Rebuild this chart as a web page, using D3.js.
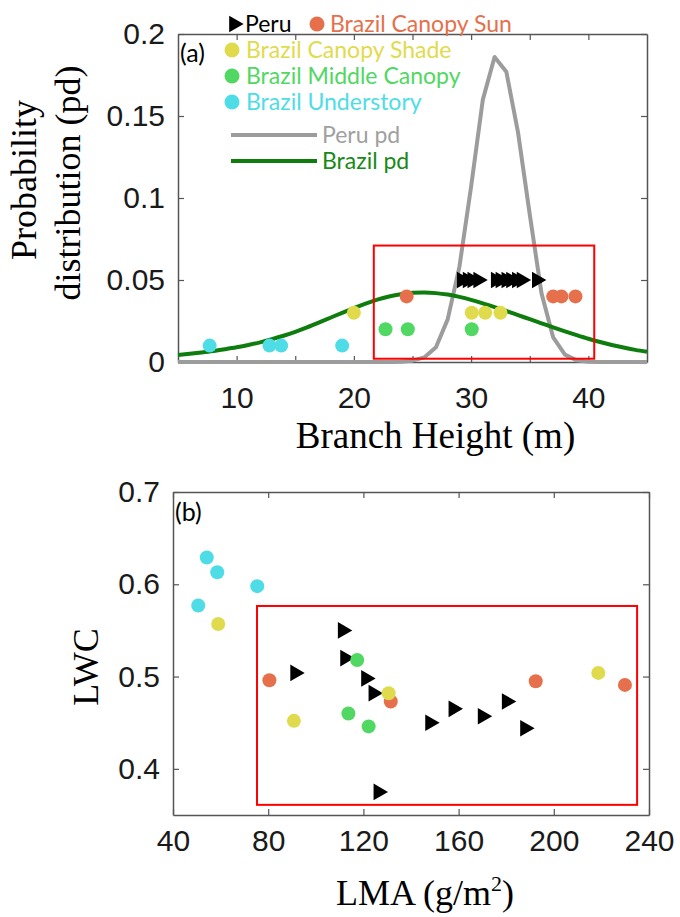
<!DOCTYPE html>
<html>
<head>
<meta charset="utf-8">
<script src="https://cdn.jsdelivr.net/npm/d3@7"></script>
<style>
  body { margin: 0; background: #fff; }
  svg { display: block; }
</style>
</head>
<body>
<svg id="chart" width="680" height="917"></svg>
<script>
// ---- panel (a): branch height (m) of each sample, drawn at a fixed row level
const peruHeight   = [29.2, 29.7, 30.1, 30.6, 32.1, 32.5, 33.0, 33.4, 33.9, 34.3, 35.6];
const sunHeight    = [24.5, 37.0, 37.7, 38.9];
const shadeHeight  = [20.0, 30.05, 31.2, 32.5];
const middleHeight = [22.7, 24.6, 30.05];
const underHeight  = [7.7, 12.8, 13.8, 19.0];
// row level of each group in panel (a): Peru, Sun, Shade, Middle, Understory
const rowLevel = [0.05, 0.04, 0.03, 0.02, 0.01];

// probability distributions over branch height
const pdHeight = [5, 6, 7, 8, 9, 10, 11, 12, 13, 14, 15, 16, 17, 18, 19, 20, 21, 22, 23, 24, 25,
                  26, 27, 28, 29, 30, 31, 32, 33, 34, 35, 36, 37, 38, 39, 40, 41, 42, 43, 44, 45];
const peruPd = [0, 0, 0, 0, 0, 0, 0, 0, 0, 0, 0, 0, 0, 0, 0, 0, 0, 0, 0, 0.0002, 0.0008,
                0.0028, 0.009, 0.026, 0.058, 0.107, 0.160, 0.186, 0.177, 0.140, 0.090,
                0.042, 0.015, 0.0045, 0.001, 0.0002, 0, 0, 0, 0, 0];
const brazilPd = [0.0043, 0.0050, 0.0058, 0.0067, 0.0078, 0.0090, 0.0104, 0.0120, 0.0139, 0.0160,
                  0.0184, 0.0211, 0.0240, 0.0270, 0.0300, 0.0329, 0.0356, 0.0380, 0.0399, 0.0413,
                  0.0422, 0.0424, 0.0420, 0.0411, 0.0397, 0.0379, 0.0358, 0.0335, 0.0311, 0.0286,
                  0.0261, 0.0236, 0.0211, 0.0187, 0.0164, 0.0142, 0.0122, 0.0104, 0.0088, 0.0074, 0.0062];

// ---- panel (b): leaf mass per area vs leaf water content
const peruLMA   = [91.3, 111.3, 112.3, 121.1, 124.2, 126.3, 148.0, 157.8, 170.1, 180.2, 187.9];
const peruLWC   = [0.504, 0.550, 0.520, 0.498, 0.482, 0.375, 0.450, 0.465, 0.457, 0.473, 0.444];
const sunLMA    = [80.5, 131.5, 192.4, 229.9];
const sunLWC    = [0.496, 0.473, 0.495, 0.491];
const shadeLMA  = [59.0, 90.8, 130.6, 218.7];
const shadeLWC  = [0.557, 0.452, 0.482, 0.504];
const middleLMA = [113.7, 117.4, 122.2];
const middleLWC = [0.460, 0.518, 0.446];
const underLMA  = [50.6, 54.2, 58.6, 75.4];
const underLWC  = [0.577, 0.629, 0.613, 0.598];

// highlighted regions [x0, x1, y0, y1]
const regionA = [21.7, 40.5, 0.002, 0.071];
const regionB = [75.3, 235.0, 0.361, 0.5765];

// ticks
const xTicksA = [10, 15, 20, 25, 30, 35, 40];
const yTicksA = [0, 0.05, 0.1, 0.15, 0.2];
const xTicksB = [40, 80, 120, 160, 200, 240];
const yTicksB = [0.4, 0.5, 0.6, 0.7];

const groupNames = ['Peru', 'Brazil Canopy Sun', 'Brazil Canopy Shade', 'Brazil Middle Canopy', 'Brazil Understory'];
const lineNames = ['Peru pd', 'Brazil pd'];

const colors = {
    peru: '#000000', sun: '#e5704b', shade: '#dfdb4d', middle: '#50d862', under: '#4edde6',
    peruPd: '#9c9c9c', brazilPd: '#0e7d0e', region: '#ff0000', frame: '#555555'
};
const groupColors = [colors.peru, colors.sun, colors.shade, colors.middle, colors.under];

const tickFont = "'Liberation Sans', Arial, sans-serif";
const titleFont = "'Liberation Serif', 'Times New Roman', serif";
const legendFont = "Lato, 'Open Sans', sans-serif";

const boxA = {left: 178, right: 647, top: 34, bottom: 362};
const boxB = {left: 173, right: 649, top: 492, bottom: 815};

const svg = d3.select('#chart');

const xA = d3.scaleLinear().domain([5, 45]).range([boxA.left, boxA.right]);
const yA = d3.scaleLinear().domain([0, 0.2]).range([boxA.bottom, boxA.top]);
const xB = d3.scaleLinear().domain([40, 240]).range([boxB.left, boxB.right]);
const yB = d3.scaleLinear().domain([0.35, 0.7]).range([boxB.bottom, boxB.top]);

const triangle = d3.symbol().type(d3.symbolTriangle).size(120);

// box with inward ticks on all four sides
function drawFrame(g, x, y, box, xTicks, yTicks, xFmt, yFmt, xPad) {
    const axes = [
        [d3.axisBottom(x).tickValues(xTicks).tickFormat(xFmt).tickPadding(xPad), `translate(0,${box.bottom})`],
        [d3.axisTop(x).tickValues(xTicks).tickFormat(''), `translate(0,${box.top})`],
        [d3.axisLeft(y).tickValues(yTicks).tickFormat(yFmt).tickPadding(13), `translate(${box.left},0)`],
        [d3.axisRight(y).tickValues(yTicks).tickFormat(''), `translate(${box.right},0)`]
    ];
    axes.forEach(([axis, tr]) => {
        const a = g.append('g')
            .attr('transform', tr)
            .call(axis.tickSizeInner(-6).tickSizeOuter(0));
        a.select('.domain').attr('stroke', colors.frame).attr('stroke-width', 1.5);
        a.selectAll('.tick line').attr('stroke', colors.frame).attr('stroke-width', 1.2);
        a.selectAll('text')
            .attr('font-family', tickFont)
            .attr('font-size', 30)
            .attr('fill', '#1a1a1a');
    });
}

function drawRegion(g, x, y, r) {
    g.append('rect')
        .attr('x', x(r[0]))
        .attr('y', y(r[3]))
        .attr('width', x(r[1]) - x(r[0]))
        .attr('height', y(r[2]) - y(r[3]))
        .attr('fill', 'none')
        .attr('stroke', colors.region)
        .attr('stroke-width', 2);
}

function drawDots(g, xs, ys, color, x, y) {
    g.selectAll(null)
        .data(xs)
        .join('circle')
        .attr('cx', d => x(d))
        .attr('cy', (d, i) => y(ys[i]))
        .attr('r', 7)
        .attr('fill', color);
}

function drawTriangles(g, xs, ys, x, y) {
    g.selectAll(null)
        .data(xs)
        .join('path')
        .attr('d', triangle)
        .attr('transform', (d, i) => `translate(${x(d)},${y(ys[i])}) rotate(90)`)
        .attr('fill', colors.peru);
}

// ================= PANEL (a)
const gA = svg.append('g');
drawFrame(gA, xA, yA, boxA, xTicksA, yTicksA,
    d => d % 10 === 0 ? d : '', d => d3.format('~g')(d), 25);

gA.append('path')
    .attr('d', d3.line()
        .x(d => xA(d))
        .y((d, i) => yA(peruPd[i]))(pdHeight))
    .attr('fill', 'none')
    .attr('stroke', colors.peruPd)
    .attr('stroke-width', 4)
    .attr('stroke-linejoin', 'round');

gA.append('path')
    .attr('d', d3.line().curve(d3.curveMonotoneX)
        .x(d => xA(d))
        .y((d, i) => yA(brazilPd[i]))(pdHeight))
    .attr('fill', 'none')
    .attr('stroke', colors.brazilPd)
    .attr('stroke-width', 4);

drawRegion(gA, xA, yA, regionA);

drawTriangles(gA, peruHeight, peruHeight.map(() => rowLevel[0]), xA, yA);
drawDots(gA, sunHeight, sunHeight.map(() => rowLevel[1]), colors.sun, xA, yA);
drawDots(gA, shadeHeight, shadeHeight.map(() => rowLevel[2]), colors.shade, xA, yA);
drawDots(gA, middleHeight, middleHeight.map(() => rowLevel[3]), colors.middle, xA, yA);
drawDots(gA, underHeight, underHeight.map(() => rowLevel[4]), colors.under, xA, yA);

// legend
const leg = gA.append('g').attr('font-family', legendFont).attr('font-size', 23);
// first row: Peru and Brazil Canopy Sun side by side
leg.append('path').attr('d', triangle).attr('transform', 'translate(234,24) rotate(90)');
leg.append('text').attr('x', 245).attr('y', 32).text(groupNames[0]);
leg.append('circle').attr('cx', 317).attr('cy', 24).attr('r', 7.5).attr('fill', colors.sun);
leg.append('text').attr('x', 330).attr('y', 32).attr('fill', colors.sun).text(groupNames[1]);
// the other three groups
[2, 3, 4].forEach((k, j) => {
    const cy = 50 + j * 26;
    leg.append('circle').attr('cx', 232).attr('cy', cy).attr('r', 7.5).attr('fill', groupColors[k]);
    leg.append('text').attr('x', 246).attr('y', cy + 8).attr('fill', groupColors[k]).text(groupNames[k]);
});
// line entries
[colors.peruPd, colors.brazilPd].forEach((c, j) => {
    const cy = 135 + j * 26;
    leg.append('line').attr('x1', 231).attr('x2', 317).attr('y1', cy).attr('y2', cy)
        .attr('stroke', c).attr('stroke-width', 4);
    leg.append('text').attr('x', 322).attr('y', cy + 8)
        .attr('fill', j === 0 ? '#a0a0a0' : '#178a17').text(lineNames[j]);
});

gA.append('text').attr('x', 180).attr('y', 62)
    .attr('font-family', legendFont).attr('font-size', 25).text('(a)');

// axis titles
gA.append('text')
    .attr('x', (boxA.left + boxA.right) / 2 + 23).attr('y', 448)
    .attr('text-anchor', 'middle')
    .attr('font-family', titleFont).attr('font-size', 37)
    .text('Branch Height (m)');
gA.append('text')
    .attr('transform', 'translate(36,180) rotate(-90)')
    .attr('text-anchor', 'middle')
    .attr('font-family', titleFont).attr('font-size', 36)
    .text('Probability');
gA.append('text')
    .attr('transform', 'translate(80,183) rotate(-90)')
    .attr('text-anchor', 'middle')
    .attr('font-family', titleFont).attr('font-size', 36)
    .text('distribution (pd)');

// ================= PANEL (b)
const gB = svg.append('g');
drawFrame(gB, xB, yB, boxB, xTicksB, yTicksB, d => d, d => d3.format('.1f')(d), 15);

drawRegion(gB, xB, yB, regionB);

drawTriangles(gB, peruLMA, peruLWC, xB, yB);
drawDots(gB, sunLMA, sunLWC, colors.sun, xB, yB);
drawDots(gB, shadeLMA, shadeLWC, colors.shade, xB, yB);
drawDots(gB, middleLMA, middleLWC, colors.middle, xB, yB);
drawDots(gB, underLMA, underLWC, colors.under, xB, yB);

gB.append('text').attr('x', 175).attr('y', 521)
    .attr('font-family', legendFont).attr('font-size', 25).text('(b)');

const lma = gB.append('text')
    .attr('x', 425).attr('y', 905)
    .attr('text-anchor', 'middle')
    .attr('font-family', titleFont).attr('font-size', 36);
lma.append('tspan').text('LMA (g/m');
lma.append('tspan').attr('font-size', 22).attr('dy', -14).text('2');
lma.append('tspan').attr('dy', 14).text(')');

gB.append('text')
    .attr('transform', 'translate(98,667) rotate(-90)')
    .attr('text-anchor', 'middle')
    .attr('font-family', titleFont).attr('font-size', 36)
    .text('LWC');
</script>
</body>
</html>
